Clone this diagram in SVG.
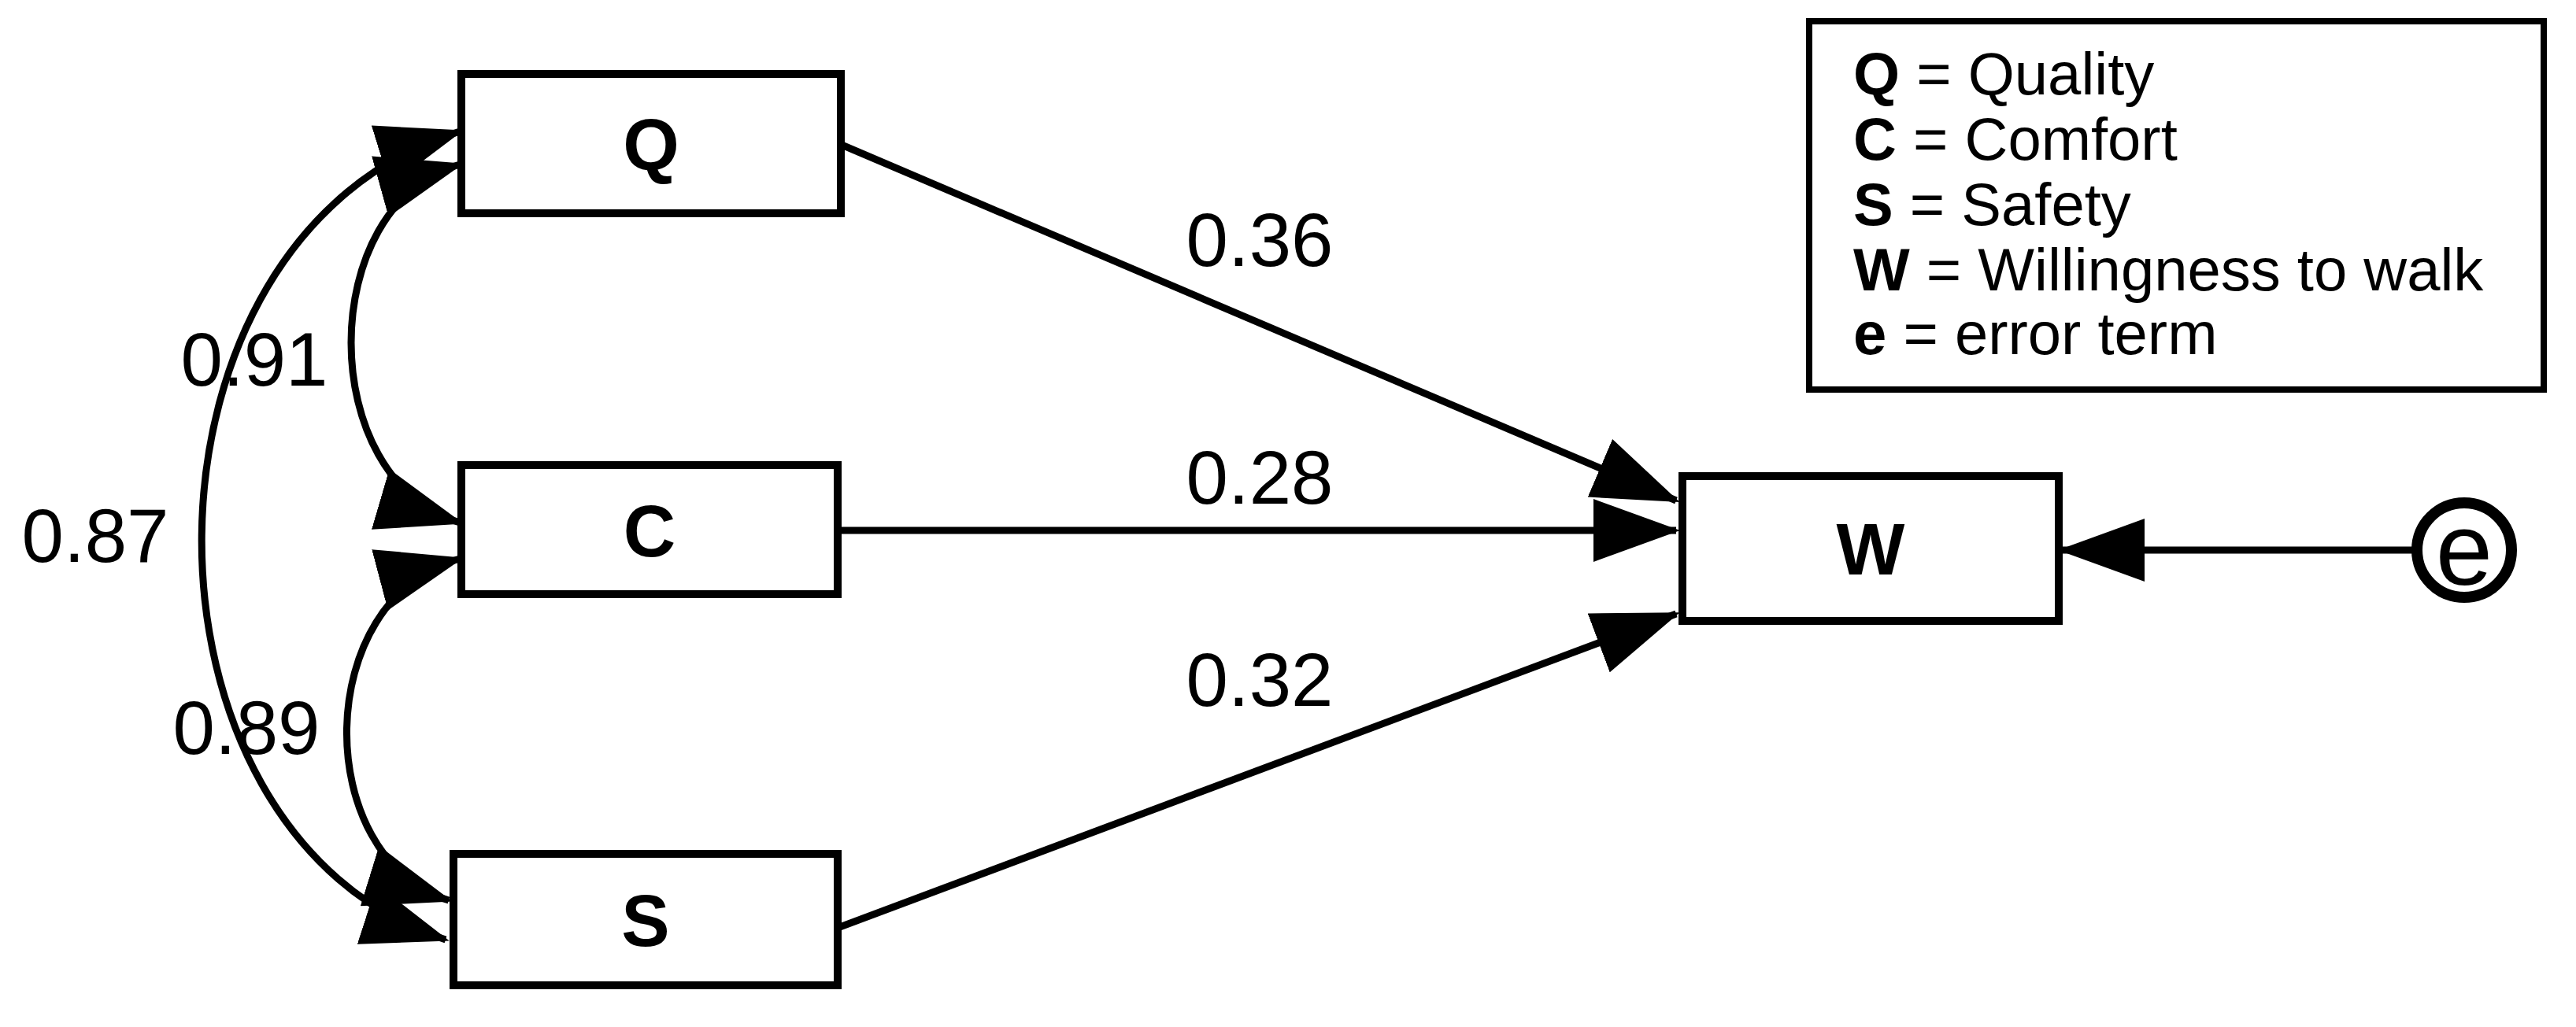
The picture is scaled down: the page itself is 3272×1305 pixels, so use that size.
<svg xmlns="http://www.w3.org/2000/svg" width="3272" height="1305" viewBox="0 0 3272 1305">
<style>
.box{fill:#fff;stroke:#000;stroke-width:10}
.lbl{font-family:"Liberation Sans",Arial,sans-serif;font-weight:bold;font-size:92px;text-anchor:middle}
.num{font-family:"Liberation Sans",Arial,sans-serif;font-size:96px;text-anchor:middle}
.leg{font-family:"Liberation Sans",Arial,sans-serif;font-size:76px}
.e{fill:none;stroke:#000;stroke-width:9}
</style>
<defs>
<marker id="ah" markerUnits="userSpaceOnUse" markerWidth="110" markerHeight="80" refX="105" refY="40" orient="auto-start-reverse" viewBox="0 0 110 80">
<path d="M0,0 L110,40 L0,80 Z" fill="#000"/>
</marker>
</defs>
<rect width="3272" height="1305" fill="#fff"/>
<g id="connectors">
<path class="e" d="M1069,184 L2129,636" marker-end="url(#ah)"/>
<path class="e" d="M1069,674 L2129,674" marker-end="url(#ah)"/>
<path class="e" d="M1064,1179 L2129,780" marker-end="url(#ah)"/>
<path class="e" d="M3068,699 L2619,699" marker-end="url(#ah)"/>
<path class="e" d="M584,209 C400,260 400,610 584,664" marker-start="url(#ah)" marker-end="url(#ah)"/>
<path class="e" d="M584,710 C395,760 395,1090 570,1144" marker-start="url(#ah)" marker-end="url(#ah)"/>
<path class="e" d="M584,167 C150,300 150,1060 566,1194" marker-start="url(#ah)" marker-end="url(#ah)"/>
<text class="num" x="1600" y="338">0.36</text>
<text class="num" x="1600" y="640">0.28</text>
<text class="num" x="1600" y="897">0.32</text>
<text class="num" x="323" y="490">0.91</text>
<text class="num" x="121" y="714">0.87</text>
<text class="num" x="313" y="958">0.89</text>
</g>
<g id="Q"><rect class="box" x="586" y="94" width="482" height="177"/><text class="lbl" x="827" y="216">Q</text></g>
<g id="C"><rect class="box" x="586" y="591" width="478" height="164"/><text class="lbl" x="825" y="707">C</text></g>
<g id="S"><rect class="box" x="576" y="1085" width="488" height="167"/><text class="lbl" x="820" y="1202">S</text></g>
<g id="W"><rect class="box" x="2137" y="605" width="478" height="184"/><text class="lbl" x="2376" y="730">W</text></g>
<g id="e"><circle cx="3130" cy="699" r="60" fill="#fff" stroke="#000" stroke-width="14"/><text x="3130" y="743" font-family="Liberation Sans, Arial, sans-serif" font-size="130" text-anchor="middle">e</text></g>
<g id="legend">
<rect x="2298" y="27" width="933" height="468" fill="#fff" stroke="#000" stroke-width="8"/>
<text class="leg" x="2354" y="120"><tspan font-weight="bold">Q</tspan> = Quality</text>
<text class="leg" x="2354" y="203"><tspan font-weight="bold">C</tspan> = Comfort</text>
<text class="leg" x="2354" y="286"><tspan font-weight="bold">S</tspan> = Safety</text>
<text class="leg" x="2354" y="369"><tspan font-weight="bold">W</tspan> = Willingness to walk</text>
<text class="leg" x="2354" y="450"><tspan font-weight="bold">e</tspan> = error term</text>
</g>
</svg>
